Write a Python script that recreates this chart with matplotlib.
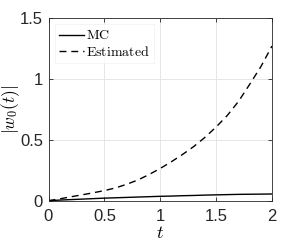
import matplotlib
matplotlib.use('Agg')
import matplotlib.pyplot as plt

t = [0.0, 0.1, 0.2, 0.3, 0.4, 0.5, 0.6, 0.7, 0.8, 0.9, 1.0,
     1.1, 1.2, 1.3, 1.4, 1.5, 1.6, 1.7, 1.8, 1.9, 2.0]
mc = [0.0, 0.005, 0.009, 0.013, 0.017, 0.021, 0.024, 0.027, 0.030, 0.033, 0.036,
      0.038, 0.041, 0.043, 0.046, 0.048, 0.050, 0.052, 0.053, 0.054, 0.055]
estimated = [0.0, 0.015, 0.032, 0.048, 0.065, 0.083, 0.105, 0.135, 0.17, 0.215, 0.265,
             0.32, 0.38, 0.445, 0.52, 0.605, 0.70, 0.815, 0.955, 1.10, 1.27]
xticks = [0, 0.5, 1, 1.5, 2]
yticks = [0, 0.5, 1, 1.5]

plt.rcParams['mathtext.fontset'] = 'cm'
plt.rcParams['font.family'] = ['Liberation Sans', 'DejaVu Sans']

fig = plt.figure(figsize=(3.01, 2.45), dpi=100)
ax = fig.add_axes([48.5 / 301, 1 - 200.7 / 245, (272 - 48.5) / 301, (200.7 - 18) / 245])

ax.plot(t, mc, color='black', lw=1.0, label=r'$\mathrm{MC}$')
ax.plot(t, estimated, color='black', lw=1.0, ls=(0, (5, 3.5)), label=r'$\mathrm{Estimated}$')

ax.set_xlim(0, 2)
ax.set_ylim(0, 1.5)
ax.set_xticks(xticks)
ax.set_xticklabels(['0', '0.5', '1', '1.5', '2'])
ax.set_yticks(yticks)
ax.set_yticklabels(['0', '0.5', '1', '1.5'])
ax.grid(True, color='#e6e6e6', lw=0.7)
ax.set_axisbelow(True)
ax.tick_params(direction='in', length=3, width=0.6, top=True, right=True,
               labelsize=12, colors='#262626')
ax.tick_params(axis='x', pad=6)
ax.tick_params(axis='y', pad=4)
for s in ax.spines.values():
    s.set_color('#262626')
    s.set_linewidth(0.6)

ax.set_xlabel(r'$t$', fontsize=13, labelpad=1)
ax.set_ylabel(r'$|w_0(t)|$', fontsize=12.5)
ax.yaxis.set_label_coords(-0.118, 0.5)

leg = ax.legend(loc='upper left', fontsize=10, frameon=True, fancybox=False,
                handlelength=1.8, handletextpad=0.15, borderpad=0.3,
                labelspacing=0.15, borderaxespad=0.45)
leg.get_frame().set_edgecolor('#f0f0f0')
leg.get_frame().set_linewidth(0.6)

fig.savefig('out.png', dpi=100)
